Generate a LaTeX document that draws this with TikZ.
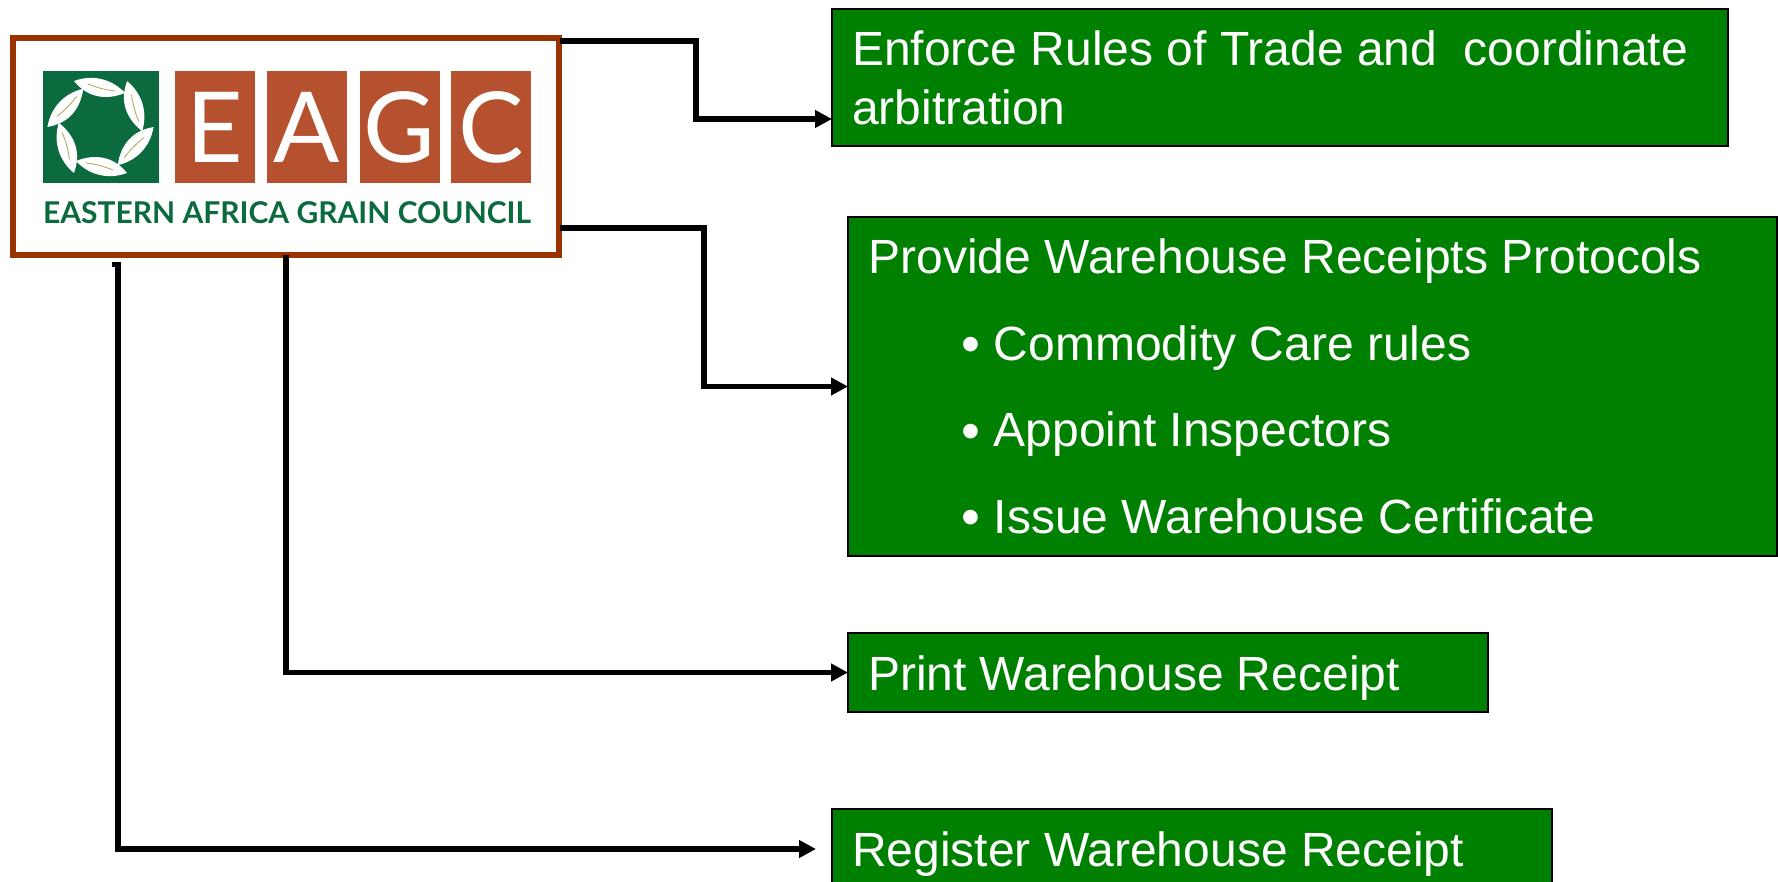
\documentclass[tikz,border=0pt]{standalone}
\usepackage{fontspec}
\setmainfont{Liberation Sans}
\newfontfamily\logofont{Lato}
\usetikzlibrary{arrows.meta}
\definecolor{boxgreen}{RGB}{0,128,0}
\definecolor{framered}{RGB}{153,51,0}
\definecolor{tilered}{RGB}{181,81,47}
\definecolor{logogreen}{RGB}{11,107,63}
\definecolor{veintan}{RGB}{170,165,90}
\newcommand{\myitem}[1]{\hspace*{46.5pt}\raisebox{-1.2pt}{\fontsize{27}{27}\selectfont\textbullet}\ #1}

\begin{document}
\begin{tikzpicture}[
    x=0.5pt, y=-0.5pt,
    % node styles
    mybox/.style={draw=black, fill=boxgreen, line width=1pt, inner sep=0pt, outer sep=0pt, text=white, align=left, execute at begin node={\spaceskip=0pt\relax}},
    mytile/.style={fill=tilered, text=white, inner sep=0pt, minimum width=40pt, minimum height=56pt, font=\logofont\fontsize{49}{49}\selectfont},
    myarrow/.style={line width=2.8pt, miter limit=10, -{Triangle[length=8.5pt,width=8.5pt]}}
]
    \useasboundingbox (0,0) rectangle (1778,882);

    % logo
    \node [draw=framered, fill=white, line width=3pt, inner sep=0pt, outer sep=0pt, minimum width=273pt, minimum height=108.5pt] (logo) at (286,146.5) {};
    \node [fill=logogreen, inner sep=0pt, minimum width=58pt, minimum height=56pt] (mark) at (100.5,127) {};
    \foreach \a in {0,60,...,300} {
        \fill [white, rotate around={\a:(mark.center)}] (74,81) .. controls (93,74) and (112,79) .. (125,93) .. controls (105,101) and (87,97) .. (74,81);
        \draw [veintan, line width=0.4pt, rotate around={\a:(mark.center)}] (88,84) .. controls (98,88) and (106,90) .. (115,91);
    }
    \node [mytile] (tile1) at (215,127) {E};
    \node [mytile] (tile2) at (306.5,127) {A};
    \node [mytile] (tile3) at (399.5,127) {G};
    \node [mytile] (tile4) at (491,127) {C};
    \node [text=logogreen, inner sep=0pt, font=\logofont\bfseries\fontsize{15}{15}\selectfont] (name) at (287,213) {EASTERN AFRICA GRAIN COUNCIL};

    % green boxes
    \node [mybox, minimum width=448pt, minimum height=68.5pt, text width=428pt, text height=17pt, text depth=29pt, font=\fontsize{24}{29.5}\selectfont] (rules) at (1280,77.5) {Enforce Rules of Trade and\ \ coordinate\\arbitration};
    \node [mybox, minimum width=464.5pt, minimum height=169.5pt, text width=444pt, text height=17pt, text depth=129.5pt, font=\fontsize{24}{43.25}\selectfont] (protocols) at (1312.5,386.5) {Provide Warehouse Receipts Protocols\\
        \myitem{Commodity Care rules}\\
        \myitem{Appoint Inspectors}\\
        \myitem{Issue Warehouse Certificate}};
    \node [mybox, minimum width=320pt, minimum height=39.5pt, text width=300pt, text height=17.5pt, text depth=0pt, font=\fontsize{24}{29.5}\selectfont] (print) at (1168,672.5) {Print Warehouse Receipt};
    \node [mybox, minimum width=360pt, minimum height=40pt, text width=340pt, text height=17pt, text depth=0pt, font=\fontsize{24}{29.5}\selectfont] (register) at (1192,849) {Register Warehouse Receipt};

    % connector ends
    \coordinate (rulesout) at (560,41);
    \coordinate (rulesin) at (832,119);
    \coordinate (protoout) at (560,228);
    \coordinate (regout) at (112,264.5);
    \coordinate (regin) at (816,849);

    % connectors
    \draw [myarrow] (rulesout) -| (696,119) -- (rulesin);
    \draw [myarrow] (protoout) -| (704,386.5) -- (protocols.west);
    \draw [myarrow] (logo.south) |- (print.west);
    \draw [myarrow] (regout) -| (118,849) -- (regin);
\end{tikzpicture}
\end{document}
